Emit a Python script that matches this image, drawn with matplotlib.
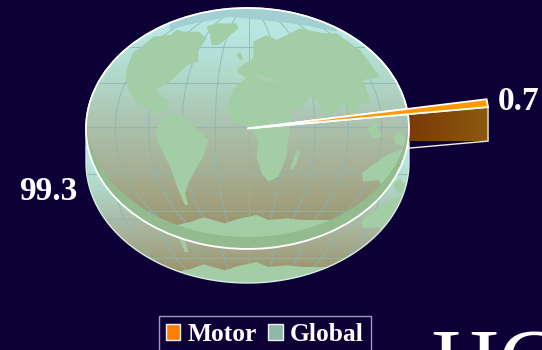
import numpy as np
import matplotlib
matplotlib.use("Agg")
import matplotlib.pyplot as plt
from matplotlib.colors import LinearSegmentedColormap
from matplotlib.patches import Patch, Polygon
from matplotlib.path import Path

# chart data
labels = ["Motor", "Global"]
values = [0.7, 99.3]
value_labels = ["0.7", "99.3"]

W, H = 542, 350
BG = "#0d0036"
SERIF = "Liberation Serif"

# pie geometry, in pixels
cx, cy, rx, ry = 247.5, 128.5, 161.5, 120.5
depth = 34
start_angle = 6.8
pull = 1.5


# outlines of the map painted on the pie, zoom-crop coordinates
north_america = [(210, 145), (190, 155), (170, 205), (168, 245), (180, 280), (205, 310), (240, 330),
                 (262, 345), (290, 335), (295, 300), (275, 290), (262, 268), (250, 265), (228, 272),
                 (270, 262), (300, 245), (330, 215), (355, 195), (385, 185), (385, 150), (410, 115),
                 (385, 95), (345, 95), (320, 90), (300, 105), (250, 110), (215, 140)]
greenland = [(410, 80), (440, 70), (500, 70), (505, 85), (470, 115), (445, 135), (425, 135), (420, 105)]
south_america = [(255, 395), (275, 360), (300, 338), (340, 350), (390, 395), (415, 420), (400, 470),
                 (375, 510), (355, 550), (345, 580), (355, 615), (345, 615), (325, 570),
                 (300, 500), (265, 430)]
old_world = [(500, 215), (510, 200), (550, 175), (550, 125), (590, 105), (620, 120), (690, 85), (760, 100),
             (800, 100), (870, 150), (900, 190), (930, 230), (880, 240), (890, 270), (900, 310), (870, 310),
             (850, 340), (820, 310), (790, 340), (770, 350), (740, 300), (720, 290), (690, 330), (665, 320),
             (660, 370), (655, 420), (650, 470), (625, 530), (595, 545), (575, 520), (560, 470),
             (565, 420), (545, 390), (520, 375), (490, 365), (470, 330), (490, 265), (540, 225), (530, 235)]
australia = [(875, 520), (900, 500), (960, 460), (1000, 445), (1005, 480), (990, 520), (945, 565), (925, 540),
             (880, 545)]
madagascar = [(660, 505), (680, 450), (690, 455), (680, 490), (665, 510)]
borneo = [(890, 390), (915, 360), (935, 410), (910, 415)]
new_guinea = [(970, 410), (990, 395), (1010, 420), (1000, 440), (975, 430)]
britain = [(500, 165), (510, 155), (520, 180), (510, 180)]
antarctica = [(290, 682), (365, 665), (400, 652), (465, 670), (500, 658), (560, 645), (595, 660), (650, 655),
              (700, 660), (800, 660), (805, 678), (650, 710), (530, 718), (420, 710), (300, 695)]
land = [north_america, greenland, south_america, old_world, australia, madagascar, borneo, new_guinea,
        britain, antarctica]
mediterranean = [(550, 222), (575, 228), (620, 245), (625, 252), (580, 240)]
polar_cap = [(300, 90), (330, 80), (400, 65), (480, 50), (530, 55), (620, 65), (700, 75), (800, 95), (800, 0), (300, 0)]

fig = plt.figure(figsize=(W / 100, H / 100), dpi=100, facecolor=BG)
ax = fig.add_axes([0, 0, 1, 1])
ax.set_xlim(0, W)
ax.set_ylim(H, 0)
ax.axis("off")

# pie lives in its own axes, stretched to the ellipse of the top face
ax_pie = fig.add_axes([(cx - rx) / W, 1 - (cy + ry) / H, 2 * rx / W, 2 * ry / H], zorder=3)
wedges, _ = ax_pie.pie(values, startangle=start_angle, counterclock=True, radius=1,
                       colors=["#ff9900", "none"],
                       wedgeprops=dict(edgecolor="white", linewidth=1.3, clip_on=False))
ax_pie.set_aspect("auto")
ax_pie.set_xlim(-1, 1)
ax_pie.set_ylim(-1, 1)
ax_pie.patch.set_alpha(0)
wedges[0].set_radius(pull)
wedges[0].set_zorder(6)


def px(r, angle):
    a = np.deg2rad(angle)
    return cx + r * rx * np.cos(a), cy - r * ry * np.sin(a)


sky = LinearSegmentedColormap.from_list("sky", [
    (0.0, "#b8e6e2"), (0.1, "#b8e6e2"), (0.3, "#b0d8c8"), (0.5, "#abc0ac"),
    (0.7, "#a6ad90"), (0.9, "#9c9670"), (1.0, "#958e66")])
ramp = np.linspace(0, 1, 256).reshape(-1, 1)


def to_px(points, shift):
    return [(70 + x / 3, y / 3 + shift) for x, y in points]


def paint_map(target, clip, transform, top, bottom, shift, grid_alpha=0.8):
    # gradient, graticule and land, all clipped to the face they sit on
    arts = [target.imshow(ramp, cmap=sky, aspect="auto", extent=(cx - rx, cx + rx, bottom, top), zorder=1)]
    t = np.linspace(-1, 1, 80)
    grid = "#8ab6b4"
    for k in [-4, -3, -2, -1, 0, 1, 2, 3, 4]:
        x = cx + 1 + k * 33.3 * np.sqrt(1 - t ** 2) * 1.0
        y = cy + shift + t * ry
        arts += target.plot(x, y, color=grid, lw=0.7, alpha=grid_alpha, zorder=2)
    for lat in [46.7, 83.3, 127.3, 171.7, 210.7]:
        arts += target.plot([cx - rx, cx + rx], [lat + shift, lat + shift], color=grid, lw=0.8,
                            alpha=grid_alpha, zorder=2)
    arts.append(target.add_patch(Polygon(to_px(polar_cap, shift), closed=True, fc="#a2d0d2", ec="none", zorder=2.5)))
    for outline in land:
        arts.append(target.add_patch(Polygon(to_px(outline, shift), closed=True, fc="#a3cda4", ec="none", zorder=3)))
    arts.append(target.add_patch(Polygon(to_px(mediterranean, shift), closed=True, fc="#aecdb4", ec="none", zorder=3)))
    for a in arts:
        a.set_clip_path(clip, transform)


# side of the pie: lower half of the bottom ellipse joined to the top ellipse
u = np.linspace(0, 2 * np.pi, 240)
rim_x = cx + rx * np.cos(u)
rim_y = cy + ry * np.sin(u) + np.where(np.sin(u) > 0, depth, 0)
rim_path = Path(np.column_stack([rim_x, rim_y]), closed=False)
rim_edge = ax.add_patch(Polygon(np.column_stack([rim_x, rim_y]), closed=True, fc="none", ec="#d8ece6", lw=1.0, zorder=5))
paint_map(ax, rim_path, ax.transData, 145, 283, 47)
ax.set_xlim(0, W)
ax.set_ylim(H, 0)

# pulled-out slice side
a0 = wedges[0].theta1
x0, y0 = px(1, a0)
x1, y1 = px(pull, a0)
side = np.array([(x0, y0), (x1, y1), (x1, y1 + depth), (x0, y0 + depth)])
side_cmap = LinearSegmentedColormap.from_list("side", ["#7a3a06", "#84490b", "#8a5a10"])
side_im = ax.imshow(np.linspace(0, 1, 64).reshape(1, -1), cmap=side_cmap, aspect="auto",
                    extent=(x0, x1, y1 + depth, y1), zorder=6)
side_im.set_clip_path(Path(side), ax.transData)
ax.add_patch(Polygon(side, closed=True, fc="none", ec="#f0ece0", lw=1.0, zorder=7))
ax.set_xlim(0, W)
ax.set_ylim(H, 0)

# top face, painted inside the Global wedge
ax_top = fig.add_axes([0, 0, 1, 1], zorder=2)
ax_top.axis("off")
ax_top.patch.set_alpha(0)
global_path = wedges[1].get_path()
global_tf = wedges[1].get_transform()
paint_map(ax_top, global_path, global_tf, cy - ry, cy + ry, 0)
u2 = np.linspace(0, np.pi, 60)
crescent = np.column_stack([np.r_[cx + rx * np.cos(u2), cx + rx * np.cos(u2[::-1])],
                            np.r_[cy + ry * np.sin(u2), cy - 12 + ry * np.sin(u2[::-1])]])
p = ax_top.add_patch(Polygon(crescent, closed=True, fc="#93bb8f", ec="none", zorder=4))
p.set_clip_path(global_path, global_tf)
ax_top.set_xlim(0, W)
ax_top.set_ylim(H, 0)

# value labels
ax.text(498, 101, value_labels[0], family=SERIF, weight="bold", fontsize=24, color="white", va="center", ha="left", zorder=9)
ax.text(19, 191, value_labels[1], family=SERIF, weight="bold", fontsize=24, color="white", va="center", ha="left", zorder=9)

# big slide title cut off by the bottom edge
ax.text(430, 393, "HC", family=SERIF, fontsize=68, color="white", va="baseline", ha="left", zorder=9)

handles = [Patch(fc="#ff7f00", ec="#f0f0f0", lw=1), Patch(fc="#8fb8a8", ec="#f0f0f0", lw=1)]
leg = fig.legend(handles, labels, ncol=2, loc="upper left", bbox_to_anchor=(159 / W, 1 - 316 / H),
                 prop=dict(family=SERIF, weight="bold", size=18.4), labelcolor="white",
                 frameon=True, facecolor=BG, edgecolor="#a09cb8", framealpha=1, fancybox=False,
                 handlelength=0.56, handleheight=0.56, handletextpad=0.28, columnspacing=0.44,
                 borderpad=0.28, borderaxespad=0)
leg.get_frame().set_linewidth(1)

fig.savefig("out.png", dpi=100, facecolor=BG)
